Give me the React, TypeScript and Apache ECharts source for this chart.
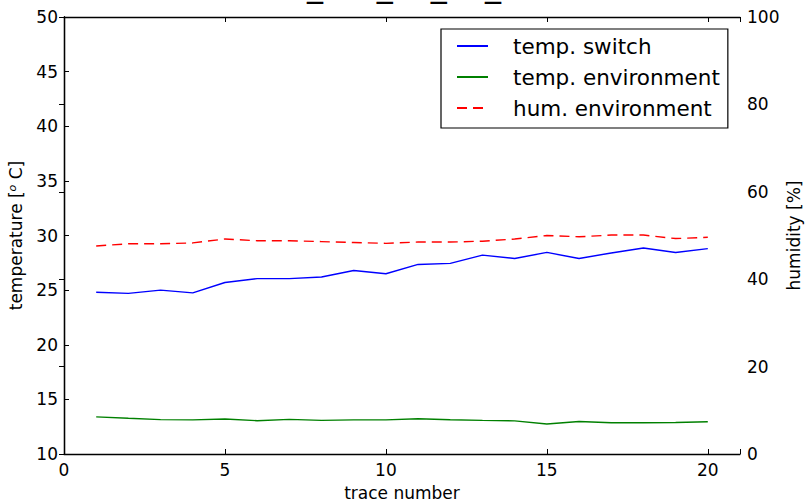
import React, { useEffect, useRef } from "react";
import * as echarts from "echarts";

const traces = [1, 2, 3, 4, 5, 6, 7, 8, 9, 10, 11, 12, 13, 14, 15, 16, 17, 18, 19, 20];
const tempSwitch = [24.8, 24.7, 25.0, 24.75, 25.7, 26.05, 26.05, 26.2, 26.8, 26.5, 27.35, 27.45, 28.2, 27.9, 28.45, 27.9, 28.4, 28.85, 28.45, 28.8];
const tempEnv = [13.4, 13.27, 13.15, 13.12, 13.2, 13.05, 13.17, 13.08, 13.12, 13.12, 13.23, 13.14, 13.08, 13.03, 12.75, 12.98, 12.86, 12.86, 12.88, 12.95];
const humEnv = [47.6, 48.1, 48.1, 48.3, 49.2, 48.8, 48.8, 48.6, 48.4, 48.2, 48.5, 48.5, 48.7, 49.2, 50.0, 49.7, 50.1, 50.1, 49.3, 49.6];
const seriesNames = ["temp. switch", "temp. environment", "hum. environment"];
const xTicks = [0, 5, 10, 15, 20];
const titleText = "data_run_ex_ex_run";

const FONT = "DejaVu Sans";

export default function App() {
  const ref = useRef<HTMLDivElement>(null);
  useEffect(() => {
    if (!ref.current) return;
    document.body.style.margin = "0";
    document.body.style.overflow = "hidden";
    const chart = echarts.init(ref.current, null, { renderer: "svg" });
    const pair = (ys: number[]) => traces.map((x, i) => [x, ys[i]]);
    const axisLine = { show: true, lineStyle: { color: "#000", width: 1.3 } };
    const tick = { show: true, inside: true, length: 5, lineStyle: { color: "#000", width: 1 } };
    chart.setOption({
      animation: false,
      backgroundColor: "#fff",
      textStyle: { fontFamily: FONT },
      grid: { left: 64, right: 65, top: 17, bottom: 48, containLabel: false, outerBoundsMode: "none" },
      graphic: [
        {
          type: "text",
          left: 235,
          top: -31,
          style: { text: titleText, fontFamily: FONT, fontSize: 32, fill: "#000" },
        },
      ],
      legend: {
        orient: "vertical",
        left: 441,
        top: 29,
        align: "left",
        padding: [5, 8, 8, 15],
        itemGap: 7,
        itemWidth: 31,
        itemHeight: 14,
        borderColor: "#000",
        borderWidth: 1.2,
        backgroundColor: "#fff",
        data: seriesNames,
        itemStyle: { color: "rgba(0,0,0,0)", borderColor: "rgba(0,0,0,0)", borderWidth: 0, opacity: 0 },
        textStyle: { fontFamily: FONT, fontSize: 21.5, color: "#000", lineHeight: 24, padding: [0, 0, 0, 20] },
      },
      xAxis: [
        {
          type: "value",
          min: 0,
          max: 21,
          interval: 5,
          position: "bottom",
          name: "trace number",
          nameLocation: "middle",
          nameGap: 30,
          nameMoveOverlap: false,
          nameTextStyle: { fontFamily: FONT, fontSize: 17, color: "#000" },
          axisLine,
          axisTick: tick,
          axisLabel: {
            fontFamily: FONT,
            fontSize: 17,
            color: "#000",
            margin: 7,
            formatter: (v: number) => (xTicks.includes(v) ? String(v) : ""),
          },
          splitLine: { show: false },
        },
        {
          type: "value",
          min: 0,
          max: 21,
          interval: 5,
          position: "top",
          axisLine,
          axisTick: tick,
          axisLabel: { show: false },
          splitLine: { show: false },
        },
      ],
      yAxis: [
        {
          type: "value",
          min: 10,
          max: 50,
          interval: 5,
          position: "left",
          name: "temperature [{s|o} C]",
          nameLocation: "middle",
          nameRotate: 90,
          nameGap: 40,
          nameMoveOverlap: false,
          nameTextStyle: {
            fontFamily: FONT,
            fontSize: 17,
            color: "#000",
            rich: { s: { fontFamily: FONT, fontSize: 11, fontStyle: "italic", color: "#000", verticalAlign: "top", lineHeight: 17 } },
          },
          axisLine,
          axisTick: tick,
          axisLabel: { fontFamily: FONT, fontSize: 17, color: "#000", margin: 6 },
          splitLine: { show: false },
        },
        {
          type: "value",
          min: 0,
          max: 100,
          interval: 20,
          position: "right",
          name: "humidity [%]",
          nameLocation: "middle",
          nameRotate: 90,
          nameGap: 45,
          nameMoveOverlap: false,
          nameTextStyle: { fontFamily: FONT, fontSize: 17, color: "#000" },
          axisLine,
          axisTick: tick,
          axisLabel: { fontFamily: FONT, fontSize: 17, color: "#000", margin: 7 },
          splitLine: { show: false },
        },
      ],
      series: [
        {
          name: seriesNames[0],
          type: "line",
          xAxisIndex: 0,
          yAxisIndex: 0,
          data: pair(tempSwitch),
          symbol: "none",
          color: "#0000ff",
          lineStyle: { color: "#0000ff", width: 1.4 },
        },
        {
          name: seriesNames[1],
          type: "line",
          xAxisIndex: 0,
          yAxisIndex: 0,
          data: pair(tempEnv),
          symbol: "none",
          color: "#008000",
          lineStyle: { color: "#008000", width: 1.4 },
        },
        {
          name: seriesNames[2],
          type: "line",
          xAxisIndex: 0,
          yAxisIndex: 1,
          data: pair(humEnv),
          symbol: "none",
          color: "#ff0000",
          lineStyle: { color: "#ff0000", width: 1.4, type: [10, 6] },
        },
      ],
    });
    return () => chart.dispose();
  }, []);
  return <div ref={ref} style={{ width: 805, height: 502 }} />;
}
